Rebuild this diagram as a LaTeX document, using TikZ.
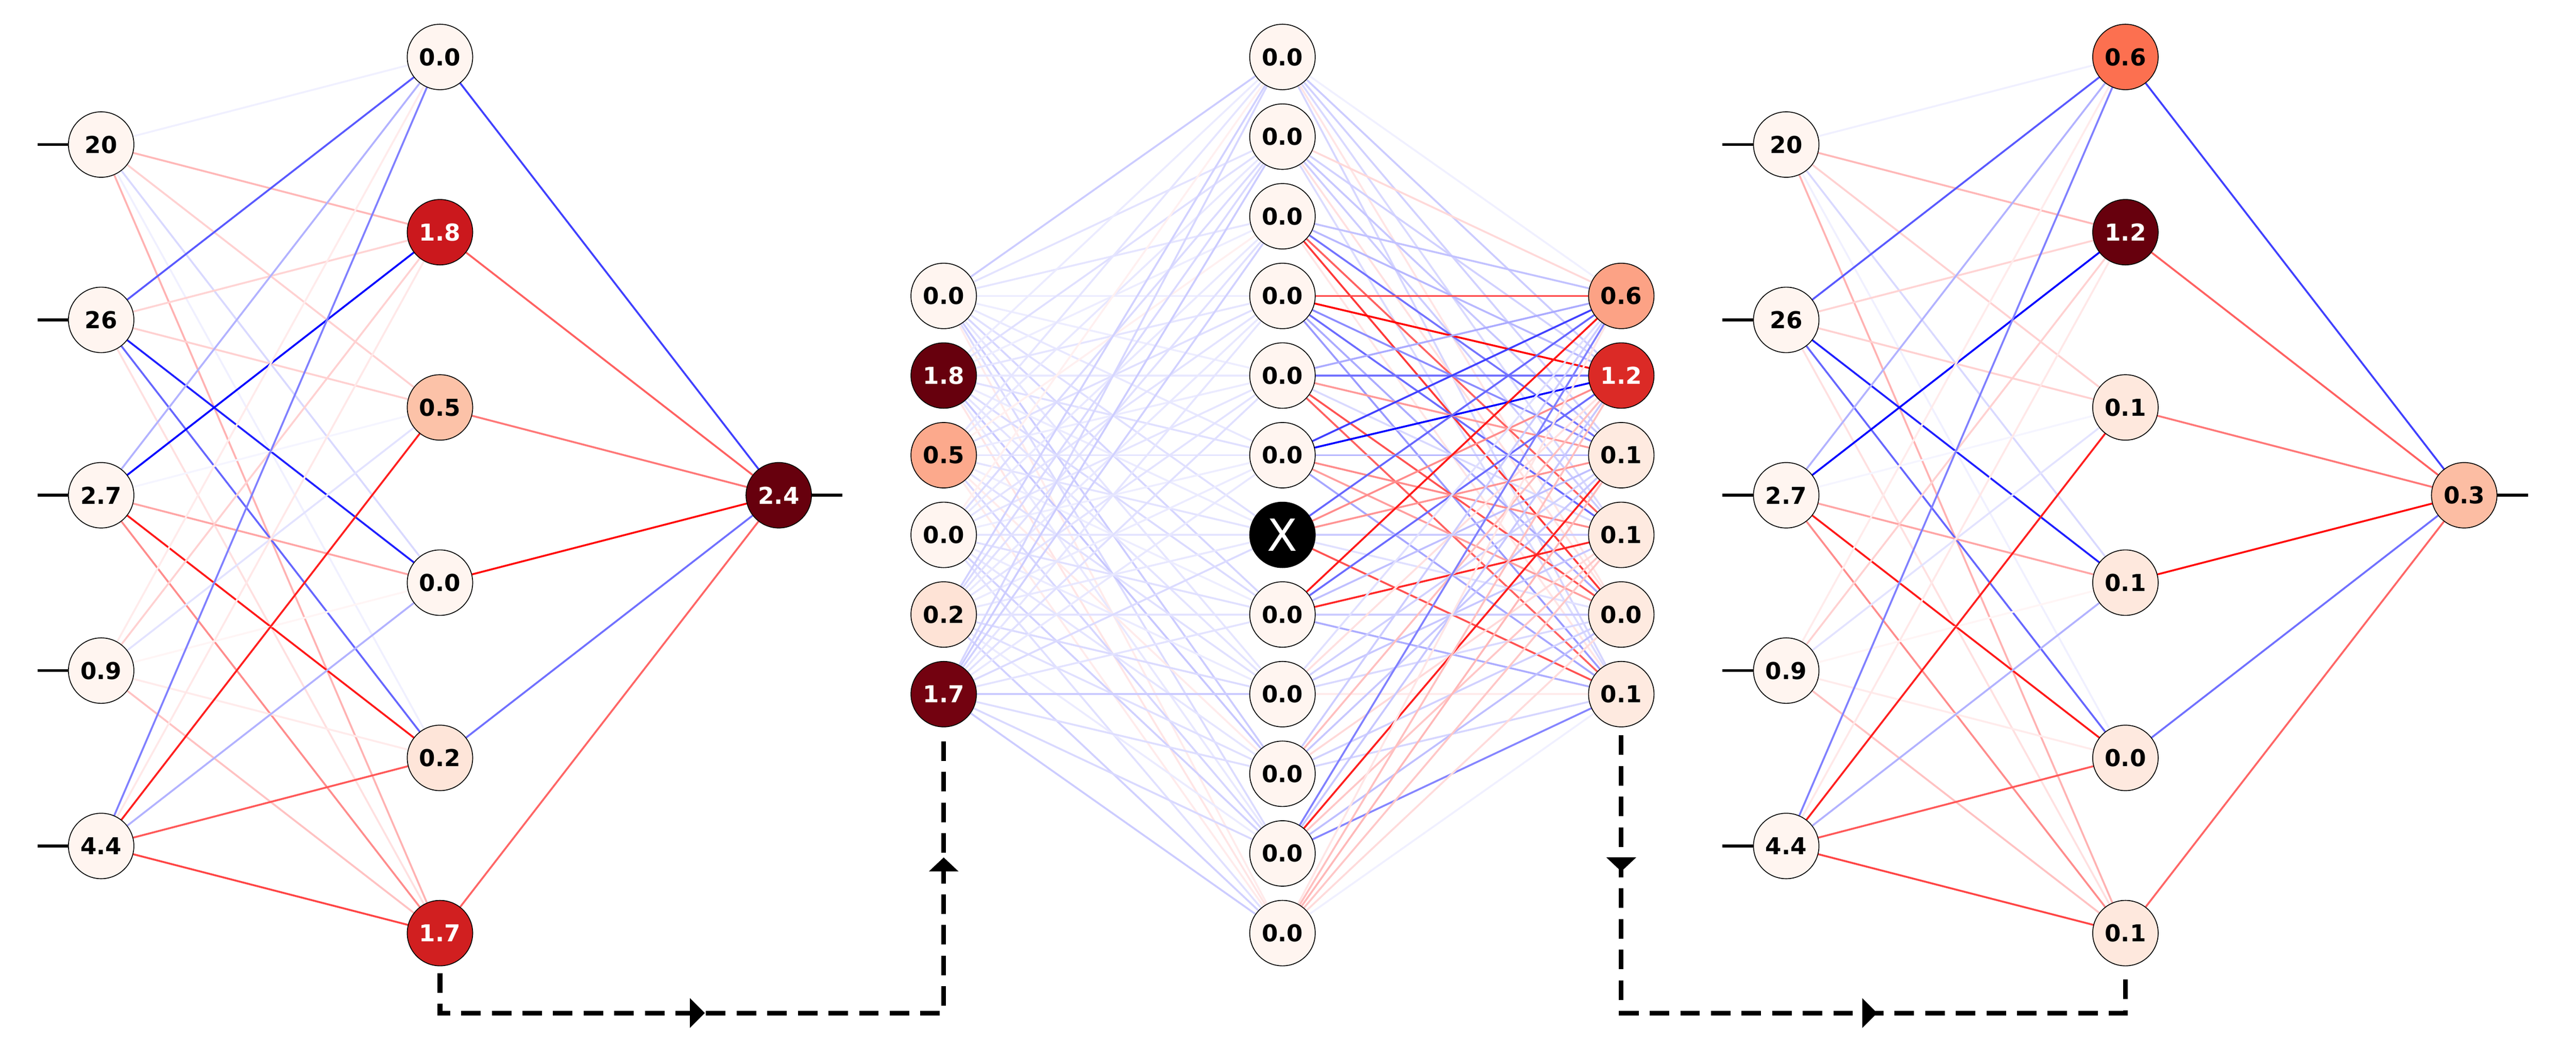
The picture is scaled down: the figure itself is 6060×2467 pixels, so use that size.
\documentclass[tikz,border=0pt]{standalone}
\usepackage{fontspec}
\setmainfont{DejaVu Sans}
\newfontfamily\xfontfam{DejaVu Sans}
\usetikzlibrary{backgrounds,calc}
\newcommand\nnfont{\fontsize{13.7pt}{16pt}\selectfont\bfseries}
\definecolor{cz}{HTML}{FFF5F0}
\definecolor{cLhb}{HTML}{CB181D}
\definecolor{cLhc}{HTML}{FCC2A8}
\definecolor{cLhe}{HTML}{FEE5D9}
\definecolor{cLhf}{HTML}{D11F20}
\definecolor{cdark}{HTML}{67000D}
\definecolor{cRha}{HTML}{FC7050}
\definecolor{cRone}{HTML}{FEE8DD}
\definecolor{cRzero}{HTML}{FEE9DF}
\definecolor{cRo}{HTML}{FCBDA3}
\definecolor{cMlc}{HTML}{FCA98C}
\definecolor{cMle}{HTML}{FEE3D6}
\definecolor{cMlf}{HTML}{730210}
\definecolor{cMra}{HTML}{FCA285}
\definecolor{cMrb}{HTML}{DB2A26}
\definecolor{cMrs}{HTML}{FEEAE0}
\begin{document}
\begin{tikzpicture}[x=0.25pt,y=-0.25pt,
  nd/.style={circle,draw=black,line width=0.5pt,minimum size=38.5pt,inner sep=0pt,fill=cz,font=\nnfont},
  wt/.style={text=white},
  e/.style={line width=1.1pt},
  stub/.style={line width=1.75pt},
  flow/.style={line width=2.75pt,dash pattern=on 11.5pt off 6.5pt},
  tip/.style={fill=black}]
\useasboundingbox (0,0) rectangle (6060,2467);
% ---------------- left network ----------------
\node[nd] (Li1) at (238,340) {20};
\node[nd] (Li2) at (238,752.5) {26};
\node[nd] (Li3) at (238,1165) {2.7};
\node[nd] (Li4) at (238,1577.5) {0.9};
\node[nd] (Li5) at (238,1990) {4.4};
\node[nd] (Lh1) at (1035,134) {0.0};
\node[nd,fill=cLhb,wt] (Lh2) at (1035,546.2) {1.8};
\node[nd,fill=cLhc] (Lh3) at (1035,958.4) {0.5};
\node[nd] (Lh4) at (1035,1370.6) {0.0};
\node[nd,fill=cLhe] (Lh5) at (1035,1782.8) {0.2};
\node[nd,fill=cLhf,wt] (Lh6) at (1035,2195) {1.7};
\node[nd,fill=cdark,wt] (Lo) at (1832,1165) {2.4};
% ---------------- right network ----------------
\node[nd] (Ri1) at (4202,340) {20};
\node[nd] (Ri2) at (4202,752.5) {26};
\node[nd] (Ri3) at (4202,1165) {2.7};
\node[nd] (Ri4) at (4202,1577.5) {0.9};
\node[nd] (Ri5) at (4202,1990) {4.4};
\node[nd,fill=cRha] (Rh1) at (5000,134) {0.6};
\node[nd,fill=cdark,wt] (Rh2) at (5000,546.2) {1.2};
\node[nd,fill=cRone] (Rh3) at (5000,958.4) {0.1};
\node[nd,fill=cRone] (Rh4) at (5000,1370.6) {0.1};
\node[nd,fill=cRzero] (Rh5) at (5000,1782.8) {0.0};
\node[nd,fill=cRone] (Rh6) at (5000,2195) {0.1};
\node[nd,fill=cRo] (Ro) at (5797,1165) {0.3};
% ---------------- middle network ----------------
\node[nd] (ml1) at (2220,696.1) {0.0};
\node[nd,fill=cdark,wt] (ml2) at (2220,883.4) {1.8};
\node[nd,fill=cMlc] (ml3) at (2220,1070.8) {0.5};
\node[nd] (ml4) at (2220,1258.2) {0.0};
\node[nd,fill=cMle] (ml5) at (2220,1445.5) {0.2};
\node[nd,fill=cMlf,wt] (ml6) at (2220,1632.9) {1.7};
\node[nd] (mm1) at (3017,134) {0.0};
\node[nd] (mm2) at (3017,321.4) {0.0};
\node[nd] (mm3) at (3017,508.7) {0.0};
\node[nd] (mm4) at (3017,696.1) {0.0};
\node[nd] (mm5) at (3017,883.4) {0.0};
\node[nd] (mm6) at (3017,1070.8) {0.0};
\node[nd,fill=black,text=white,font={\xfontfam\fontsize{26pt}{30pt}\selectfont}] (mm7) at (3017,1258.2) {X};
\node[nd] (mm8) at (3017,1445.5) {0.0};
\node[nd] (mm9) at (3017,1632.9) {0.0};
\node[nd] (mm10) at (3017,1820.2) {0.0};
\node[nd] (mm11) at (3017,2007.6) {0.0};
\node[nd] (mm12) at (3017,2195) {0.0};
\node[nd,fill=cMra] (mr1) at (3814,696.1) {0.6};
\node[nd,fill=cMrb,wt] (mr2) at (3814,883.4) {1.2};
\node[nd,fill=cMrs] (mr3) at (3814,1070.8) {0.1};
\node[nd,fill=cMrs] (mr4) at (3814,1258.2) {0.1};
\node[nd,fill=cMrs] (mr5) at (3814,1445.5) {0.0};
\node[nd,fill=cMrs] (mr6) at (3814,1632.9) {0.1};
% ---------------- edges ----------------
\begin{pgfonlayer}{background}
\foreach \net in {L,R}{
  \foreach \k in {1,...,5}{
    \coordinate (\net s\k) at ($(\net i\k.center)+(-150,0)$);
    \draw[stub] (\net s\k) -- (\net i\k.center);
  }
  \coordinate (\net os) at ($(\net o.center)+(150,0)$);
  \draw[stub] (\net o.center) -- (\net os);
  \foreach \a/\b/\c in {1/1/blue!6,1/2/red!28,1/3/red!18,1/4/blue!15,1/5/blue!6,1/6/red!30,
    2/1/blue!65,2/2/red!17,2/3/red!18,2/4/blue!88,2/5/blue!60,2/6/red!12,
    3/1/blue!30,3/2/blue!100,3/3/blue!4,3/4/red!35,3/5/red!90,3/6/red!45,
    4/1/red!8,4/2/red!18,4/3/blue!11,4/4/red!4,4/5/red!8,4/6/red!24,
    5/1/blue!50,5/2/red!9,5/3/red!88,5/4/blue!30,5/5/red!65,5/6/red!73}{
    \draw[e,draw=\c] (\net i\a.center) -- (\net h\b.center);
  }
  \foreach \b/\c in {1/blue!75,2/red!62,3/red!53,4/red!97,5/blue!56,6/red!60}{
    \draw[e,draw=\c] (\net h\b.center) -- (\net o.center);
  }
}
% middle: left column -> middle column
\foreach \a/\b/\c in {
  1/1/blue!20,1/2/blue!11,1/3/blue!10,1/4/blue!8,1/5/blue!7,1/6/blue!9,1/7/blue!12,1/8/blue!16,1/9/blue!10,1/10/blue!20,1/11/blue!14,1/12/red!8,
  2/1/blue!8,2/2/blue!12,2/3/blue!7,2/4/blue!10,2/5/blue!9,2/6/blue!12,2/7/blue!8,2/8/blue!14,2/9/blue!11,2/10/blue!22,2/11/blue!9,2/12/red!10,
  3/1/blue!10,3/2/blue!9,3/3/red!6,3/4/blue!12,3/5/blue!8,3/6/blue!10,3/7/blue!11,3/8/blue!7,3/9/blue!12,3/10/red!8,3/11/blue!16,3/12/red!8,
  4/1/red!6,4/2/blue!14,4/3/blue!9,4/4/blue!11,4/5/blue!10,4/6/blue!7,4/7/blue!10,4/8/blue!12,4/9/blue!8,4/10/blue!10,4/11/blue!18,4/12/blue!12,
  5/1/blue!18,5/2/blue!15,5/3/blue!12,5/4/blue!9,5/5/blue!11,5/6/blue!8,5/7/blue!9,5/8/blue!11,5/9/blue!14,5/10/blue!12,5/11/blue!8,5/12/blue!18,
  6/1/blue!16,6/2/blue!20,6/3/blue!18,6/4/blue!10,6/5/blue!12,6/6/blue!9,6/7/blue!14,6/8/blue!11,6/9/blue!20,6/10/blue!13,6/11/blue!15,6/12/blue!20}{
  \draw[e,draw=\c] (ml\a.center) -- (mm\b.center);
}
% middle: middle column -> right column
\foreach \a/\b/\c in {
  1/1/blue!6,1/2/blue!20,1/3/blue!18,1/4/blue!15,1/5/red!10,1/6/blue!16,
  2/1/red!15,2/2/blue!18,2/3/blue!22,2/4/blue!20,2/5/red!12,2/6/blue!14,
  3/1/blue!24,3/2/blue!28,3/3/blue!55,3/4/red!62,3/5/red!78,3/6/red!10,
  4/1/red!72,4/2/red!100,4/3/blue!45,4/4/blue!58,4/5/blue!33,4/6/blue!40,
  5/1/blue!33,5/2/blue!55,5/3/red!40,5/4/blue!15,5/5/red!68,5/6/red!62,
  6/1/blue!75,6/2/blue!100,6/3/blue!28,6/4/red!45,6/5/red!38,6/6/blue!35,
  7/1/blue!60,7/2/red!45,7/3/red!42,7/4/blue!20,7/5/blue!12,7/6/red!68,
  8/1/red!90,8/2/blue!58,8/3/blue!25,8/4/red!85,8/5/blue!20,8/6/blue!32,
  9/1/blue!12,9/2/red!12,9/3/blue!18,9/4/blue!22,9/5/blue!15,9/6/red!8,
  10/1/blue!20,10/2/red!25,10/3/blue!22,10/4/red!15,10/5/blue!18,10/6/blue!16,
  11/1/blue!50,11/2/blue!22,11/3/red!88,11/4/red!22,11/5/blue!25,11/6/blue!48,
  12/1/red!10,12/2/red!25,12/3/red!28,12/4/red!22,12/5/red!14,12/6/blue!6}{
  \draw[e,draw=\c] (mm\a.center) -- (mr\b.center);
}
\end{pgfonlayer}
% ---------------- dashed flows ----------------
\coordinate (fb) at (0,2383);
\draw[flow] ($(Lh6.center)+(0,94)$) -- (Lh6.center |- fb) -- (ml6.center |- fb) -- ($(ml6.center)+(0,97)$);
\draw[flow] ($(mr6.center)+(0,97)$) -- (mr6.center |- fb) -- (Rh6.center |- fb) -- ($(Rh6.center)+(0,94)$);
\fill[tip] (1623,2348) -- (1658,2383) -- (1623,2418) -- cycle;
\fill[tip] (2185,2050) -- (2220,2017) -- (2255,2050) -- cycle;
\fill[tip] (3779,2017) -- (3814,2050) -- (3849,2017) -- cycle;
\fill[tip] (4381,2348) -- (4416,2383) -- (4381,2418) -- cycle;
\end{tikzpicture}
\end{document}
